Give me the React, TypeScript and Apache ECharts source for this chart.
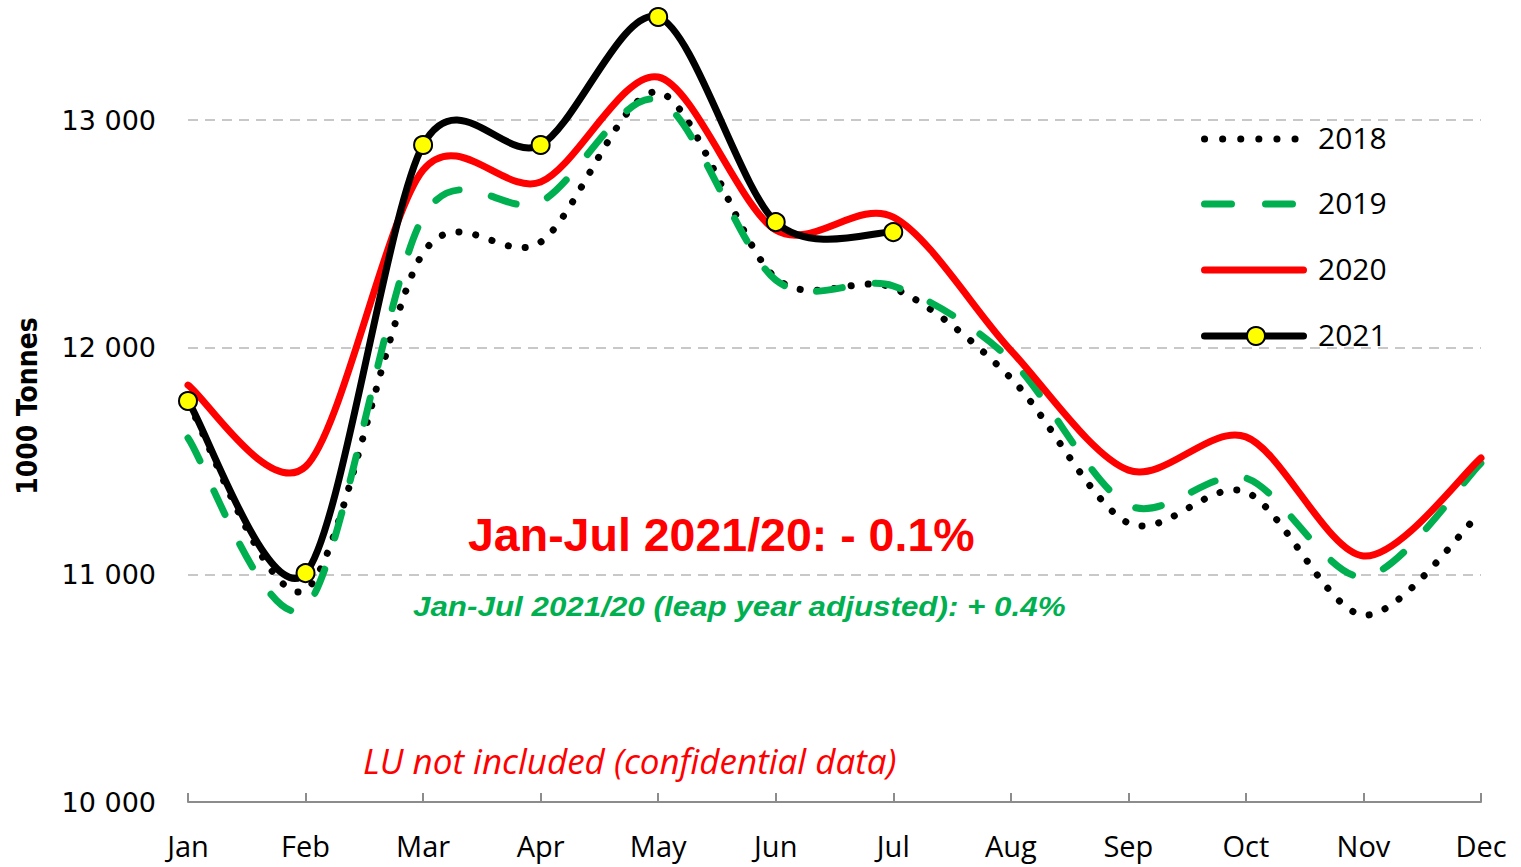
import React, { useEffect, useRef } from "react";
import * as echarts from "echarts";

const months = ["Jan", "Feb", "Mar", "Apr", "May", "Jun", "Jul", "Aug", "Sep", "Oct", "Nov", "Dec"];
const yTicks = [10000, 11000, 12000, 13000];
const years = ["2018", "2019", "2020", "2021"];
const s2018 = [11755, 10932, 12415, 12463, 13123, 12305, 12261, 11865, 11227, 11364, 10822, 11275];
const s2019 = [11601, 10857, 12573, 12640, 13088, 12296, 12270, 11945, 11306, 11425, 10990, 11491];
const s2020 = [11834, 11475, 12780, 12727, 13189, 12516, 12573, 11987, 11460, 11606, 11082, 11513];
const s2021 = [11764, 11007, 12890, 12890, 13453, 12551, 12507];

const axisTitle = "1000 Tonnes";
const annotMain = "Jan-Jul 2021/20: - 0.1%";
const annotLeap = "Jan-Jul 2021/20 (leap year adjusted): + 0.4%";
const annotLU = "LU not included (confidential data)";

type Def = { name: string; values: number[]; color: string; dash: number[] | null; legendDash: number[] | null; markers: boolean };
const defs: Def[] = [
  { name: years[0], values: s2018, color: "#000000", dash: [0.1, 17], legendDash: [0.1, 18], markers: false },
  { name: years[1], values: s2019, color: "#00B050", dash: [26, 33], legendDash: [27, 34], markers: false },
  { name: years[2], values: s2020, color: "#FF0000", dash: null, legendDash: null, markers: false },
  { name: years[3], values: s2021, color: "#000000", dash: null, legendDash: null, markers: true },
];
const LW = 7;
const TENSION = 1 / 6.6;

function makeRender(def: Def) {
  return (params: any, api: any) => {
    if (params.dataIndex !== 0) return null;
    const pts = def.values.map((val, i) => api.coord([i, val]));
    const n = pts.length;
    let d = `M${pts[0][0]},${pts[0][1]}`;
    for (let i = 0; i < n - 1; i++) {
      const p0 = pts[Math.max(i - 1, 0)];
      const p1 = pts[i];
      const p2 = pts[i + 1];
      const p3 = pts[Math.min(i + 2, n - 1)];
      const c1x = p1[0] + (p2[0] - p0[0]) * TENSION;
      const c1y = p1[1] + (p2[1] - p0[1]) * TENSION;
      const c2x = p2[0] - (p3[0] - p1[0]) * TENSION;
      const c2y = p2[1] - (p3[1] - p1[1]) * TENSION;
      d += ` C${c1x},${c1y} ${c2x},${c2y} ${p2[0]},${p2[1]}`;
    }
    const style: any = { fill: "none", stroke: def.color, lineWidth: LW, lineCap: "round", lineJoin: "round" };
    if (def.dash) style.lineDash = def.dash;
    const children: any[] = [{ type: "path", shape: { pathData: d }, style }];
    if (def.markers) {
      pts.forEach((p: number[]) =>
        children.push({
          type: "circle",
          shape: { cx: p[0], cy: p[1], r: 9 },
          style: { fill: "#FFFF00", stroke: "#000", lineWidth: 2 },
        })
      );
    }
    return { type: "group", children };
  };
}

export default function App() {
  const ref = useRef<HTMLDivElement>(null);
  useEffect(() => {
    const chart = echarts.init(ref.current!, null, { renderer: "svg" });
    const legendRows = [139, 204, 270, 336];
    const legendGraphics: any[] = [];
    defs.forEach((def, k) => {
      const y = legendRows[k];
      const ls: any = { stroke: def.color, lineWidth: LW, lineCap: "round" };
      if (def.legendDash) ls.lineDash = def.legendDash;
      legendGraphics.push({
        type: "line",
        shape: { x1: 1204.5, y1: y, x2: def.legendDash && def.name === years[1] ? 1292.5 : 1303.5, y2: y },
        style: ls,
      });
      if (def.markers) {
        legendGraphics.push({
          type: "circle",
          shape: { cx: 1256, cy: y, r: 9 },
          style: { fill: "#FFFF00", stroke: "#000", lineWidth: 2 },
        });
      }
      legendGraphics.push({
        type: "text",
        left: 1318,
        top: y - 17,
        style: { text: def.name, fill: "#000", font: "30px 'Open Sans'" },
      });
    });

    chart.setOption({
      animation: false,
      backgroundColor: "#ffffff",
      grid: { left: 188, right: 40, top: 120, bottom: 65, containLabel: false },
      xAxis: {
        type: "category",
        data: months,
        boundaryGap: false,
        axisLine: { lineStyle: { color: "#8c8c8c", width: 2 } },
        axisTick: { inside: true, length: 9, lineStyle: { color: "#8c8c8c", width: 2 } },
        axisLabel: { fontSize: 29, color: "#000", fontFamily: "Open Sans", margin: 29 },
      },
      yAxis: {
        type: "value",
        min: 10000,
        max: 13000,
        interval: 1000,
        axisLine: { show: false },
        axisTick: { show: false },
        axisLabel: {
          fontSize: 27,
          color: "#000",
          fontFamily: "DejaVu Sans",
          margin: 32,
          formatter: (v: number) => (yTicks.includes(v) ? String(v).replace(/(\d+)(\d{3})$/, "$1 $2") : ""),
        },
        splitLine: { lineStyle: { color: "#c8c8c8", width: 2, type: [10, 7] } },
      },
      series: defs.map((def, k) => ({
        name: def.name,
        type: "custom",
        coordinateSystem: "cartesian2d",
        clip: false,
        z: 2 + k,
        data: def.values.map((v, i) => [i, v]),
        encode: { x: 0, y: 1 },
        renderItem: makeRender(def),
      })),
      graphic: [
        ...legendGraphics,
        {
          type: "text",
          x: 27,
          y: 406,
          rotation: Math.PI / 2,
          style: {
            text: axisTitle,
            fill: "#000",
            font: "bold 28px 'DejaVu Sans Condensed', 'Liberation Sans', sans-serif",
            align: "center",
            verticalAlign: "middle",
          },
        },
        {
          type: "text",
          left: 468,
          top: 511,
          style: { text: annotMain, fill: "#FF0000", font: "bold 46.5px 'Liberation Sans'" },
        },
        {
          type: "text",
          x: 413,
          y: 606,
          scaleX: 1.12,
          style: {
            text: annotLeap,
            fill: "#00B050",
            font: "italic bold 28px 'Liberation Sans'",
            verticalAlign: "middle",
          },
        },
        {
          type: "text",
          x: 363,
          y: 760,
          style: { text: annotLU, fill: "#FF0000", font: "italic 35px 'Open Sans'", verticalAlign: "middle" },
        },
      ],
    });
    return () => chart.dispose();
  }, []);
  return <div ref={ref} style={{ width: 1521, height: 867, position: "absolute", left: 0, top: 0 }} />;
}
